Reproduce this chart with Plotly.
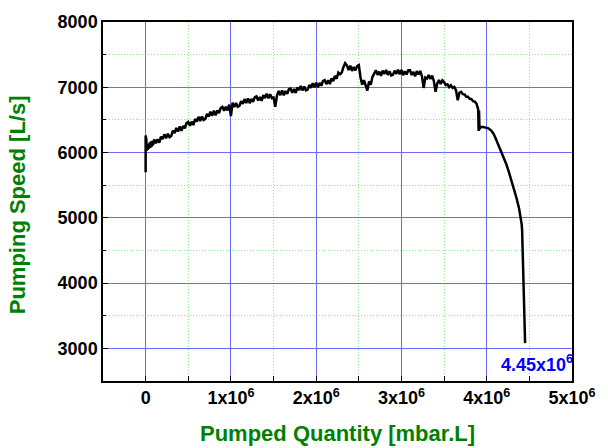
import plotly.graph_objects as go

# Pumped quantity in units of 10^6 mbar.L
quantity_e6 = [
    # start-up transient
    0.000, 0.000, 0.004, 0.008, 0.012, 0.018, 0.024, 0.030, 0.038, 0.046,
    0.054, 0.062, 0.070, 0.078, 0.086, 0.094,
    # slow rise
    0.10, 0.12, 0.14, 0.16, 0.18, 0.20, 0.22, 0.24, 0.26, 0.28,
    0.30, 0.32, 0.34, 0.36, 0.38, 0.40, 0.42, 0.44, 0.46, 0.48,
    0.50, 0.52, 0.54, 0.56, 0.58, 0.60, 0.62, 0.64, 0.66, 0.68,
    0.70, 0.72, 0.74, 0.76, 0.78, 0.80, 0.82, 0.84, 0.86, 0.88,
    0.90, 0.92, 0.94, 0.96, 0.98, 1.00, 1.02, 1.04, 1.06, 1.08,
    1.10, 1.12, 1.14, 1.16, 1.18, 1.20, 1.22, 1.24, 1.26, 1.28,
    1.30, 1.32, 1.34, 1.36, 1.38, 1.40, 1.42, 1.44, 1.46, 1.48,
    1.50, 1.52, 1.54, 1.56, 1.58, 1.60, 1.62, 1.64, 1.66, 1.68,
    1.70, 1.72, 1.74, 1.76, 1.78, 1.80, 1.82, 1.84, 1.86, 1.88,
    1.90, 1.92, 1.94, 1.96, 1.98, 2.00, 2.02, 2.04, 2.06, 2.08,
    2.10, 2.12, 2.14, 2.16, 2.18, 2.20, 2.22, 2.24, 2.26, 2.28,
    # plateau
    2.30, 2.32, 2.34, 2.36, 2.38, 2.40, 2.42, 2.44, 2.46, 2.48,
    2.50, 2.52, 2.54, 2.56, 2.58, 2.60, 2.62, 2.64, 2.66, 2.68,
    2.70, 2.72, 2.74, 2.76, 2.78, 2.80, 2.82, 2.84, 2.86, 2.88,
    2.90, 2.92, 2.94, 2.96, 2.98, 3.00, 3.02, 3.04, 3.06, 3.08,
    3.10, 3.12, 3.14, 3.16, 3.18, 3.20, 3.22, 3.24, 3.26, 3.28,
    3.30, 3.32, 3.34, 3.36, 3.38, 3.40, 3.42, 3.44, 3.46, 3.48,
    3.50, 3.52, 3.54, 3.56, 3.58, 3.60, 3.62, 3.64, 3.66, 3.68,
    3.70, 3.72, 3.74, 3.76, 3.78, 3.80, 3.82, 3.84, 3.86, 3.88,
    # break-down
    3.900, 3.905, 3.910, 3.915, 3.93, 3.96, 3.99, 4.02, 4.05, 4.08,
    4.11, 4.14, 4.17, 4.20, 4.23, 4.26, 4.29, 4.32, 4.35, 4.38,
    4.40, 4.41, 4.415, 4.42, 4.425, 4.43, 4.435, 4.44, 4.443, 4.446,
    4.448, 4.45, 4.45,
]

# Pumping speed in L/s
speed = [
    5700, 6260, 6010, 6200, 6030, 6130, 6040, 6110, 6060, 6150,
    6070, 6170, 6090, 6180, 6110, 6190,
    6200, 6142, 6204, 6151, 6243, 6205, 6279, 6218, 6287, 6236,
    6255, 6334, 6298, 6377, 6321, 6400, 6334, 6408, 6372, 6451,
    6470, 6412, 6474, 6421, 6513, 6475, 6547, 6484, 6551, 6498,
    6515, 6590, 6550, 6625, 6565, 6640, 6572, 6644, 6606, 6683,
    6700, 6640, 6700, 6645, 6735, 6560, 6763, 6696, 6759, 6702,
    6715, 6788, 6746, 6819, 6757, 6830, 6756, 6822, 6778, 6849,
    6860, 6796, 6852, 6793, 6879, 6835, 6901, 6832, 6893, 6834,
    6845, 6700, 6872, 6943, 6879, 6950, 6876, 6942, 6898, 6969,
    6980, 6916, 6972, 6913, 6999, 6955, 7021, 6952, 7013, 6954,
    6965, 7036, 6992, 7063, 6999, 7070, 6998, 7066, 7024, 7097,
    7110, 7048, 7106, 7049, 7137, 7095, 7175, 7130, 7225, 7200,
    7225, 7310, 7370, 7335, 7265, 7330, 7250, 7310, 7260, 7325,
    7340, 7150, 7040, 7110, 7030, 6950, 7090, 7040, 7160, 7200,
    7260, 7190, 7240, 7175, 7255, 7205, 7265, 7190, 7245, 7180,
    7190, 7255, 7205, 7270, 7200, 7265, 7185, 7245, 7195, 7260,
    7260, 7188, 7236, 7169, 7247, 7195, 7250, 7170, 6990, 7150,
    7135, 7188, 7126, 7179, 7097, 6930, 7060, 7110, 7050, 7105,
    7080, 7033, 7046, 7002, 7030, 6992, 7006, 6953, 6800, 6916,
    6930, 6895, 6890, 6856, 6856, 6822, 6820, 6786, 6780, 6750,
    6660, 6330, 6640, 6360, 6390, 6390, 6385, 6370, 6340, 6290,
    6200, 6110, 6020, 5920, 5820, 5700, 5570, 5430, 5300, 5140,
    4990, 4900, 4810, 4600, 4400, 4200, 3950, 3700, 3680, 3560,
    3380, 3250, 3080,
]

x_tick_vals = [0, 1, 2, 3, 4, 5]
x_tick_text = ["0", "1x10<sup>6</sup>", "2x10<sup>6</sup>", "3x10<sup>6</sup>",
               "4x10<sup>6</sup>", "5x10<sup>6</sup>"]
y_tick_vals = [3000, 4000, 5000, 6000, 7000, 8000]

end_quantity_e6 = 4.45
end_label = "4.45x10<sup>6</sup>"

FONT = "Liberation Sans, Arial, sans-serif"
GREEN = "#008000"
MAJOR_GRID = "rgb(105,105,255)"
MINOR_GRID = "rgb(140,235,140)"

fig = go.Figure()
fig.add_trace(go.Scatter(
    x=quantity_e6, y=speed, mode="lines",
    line=dict(color="black", width=2.5),
    showlegend=False, hoverinfo="skip",
))

axis_common = dict(
    showline=True, linecolor="black", linewidth=1.5, mirror=True,
    ticks="inside", ticklen=5, tickwidth=1.2, tickcolor="black",
    showgrid=True, gridcolor=MAJOR_GRID, gridwidth=1,
    zeroline=False,
    tickfont=dict(family=FONT, size=18, color="black", weight="bold"),
)

fig.update_xaxes(
    range=[-0.5, 5], tickmode="array", tickvals=x_tick_vals, ticktext=x_tick_text,
    minor=dict(dtick=0.5, tick0=0, ticks="inside", ticklen=5, tickcolor="black",
               showgrid=True, gridcolor=MINOR_GRID, griddash="1px,2px", gridwidth=1),
    **axis_common,
)
fig.update_yaxes(
    range=[2500, 8000], tickmode="array", tickvals=y_tick_vals,
    minor=dict(dtick=500, tick0=0, ticks="inside", ticklen=3, tickcolor="black",
               showgrid=True, gridcolor=MINOR_GRID, griddash="1px,2px", gridwidth=1),
    **axis_common,
)

fig.add_annotation(
    x=end_quantity_e6, y=2500, xref="x", yref="y", yshift=18, xshift=12,
    text=end_label, showarrow=False, xanchor="center", yanchor="middle",
    font=dict(family=FONT, size=18, color="#0000ff", weight="bold"),
)
fig.add_annotation(
    x=0.5, y=-0.147, xref="paper", yref="paper",
    text="Pumped Quantity [mbar.L]", showarrow=False,
    xanchor="center", yanchor="middle",
    font=dict(family=FONT, size=22, color=GREEN, weight="bold"),
)
fig.add_annotation(
    x=-0.183, y=0.49, xref="paper", yref="paper",
    text="Pumping Speed [L/s]", showarrow=False, textangle=-90,
    xanchor="center", yanchor="middle",
    font=dict(family=FONT, size=22, color=GREEN, weight="bold"),
)

fig.update_layout(
    width=608, height=448,
    margin=dict(l=103, r=26, t=21, b=67),
    paper_bgcolor="white", plot_bgcolor="white",
)

fig.write_html("out.html")
